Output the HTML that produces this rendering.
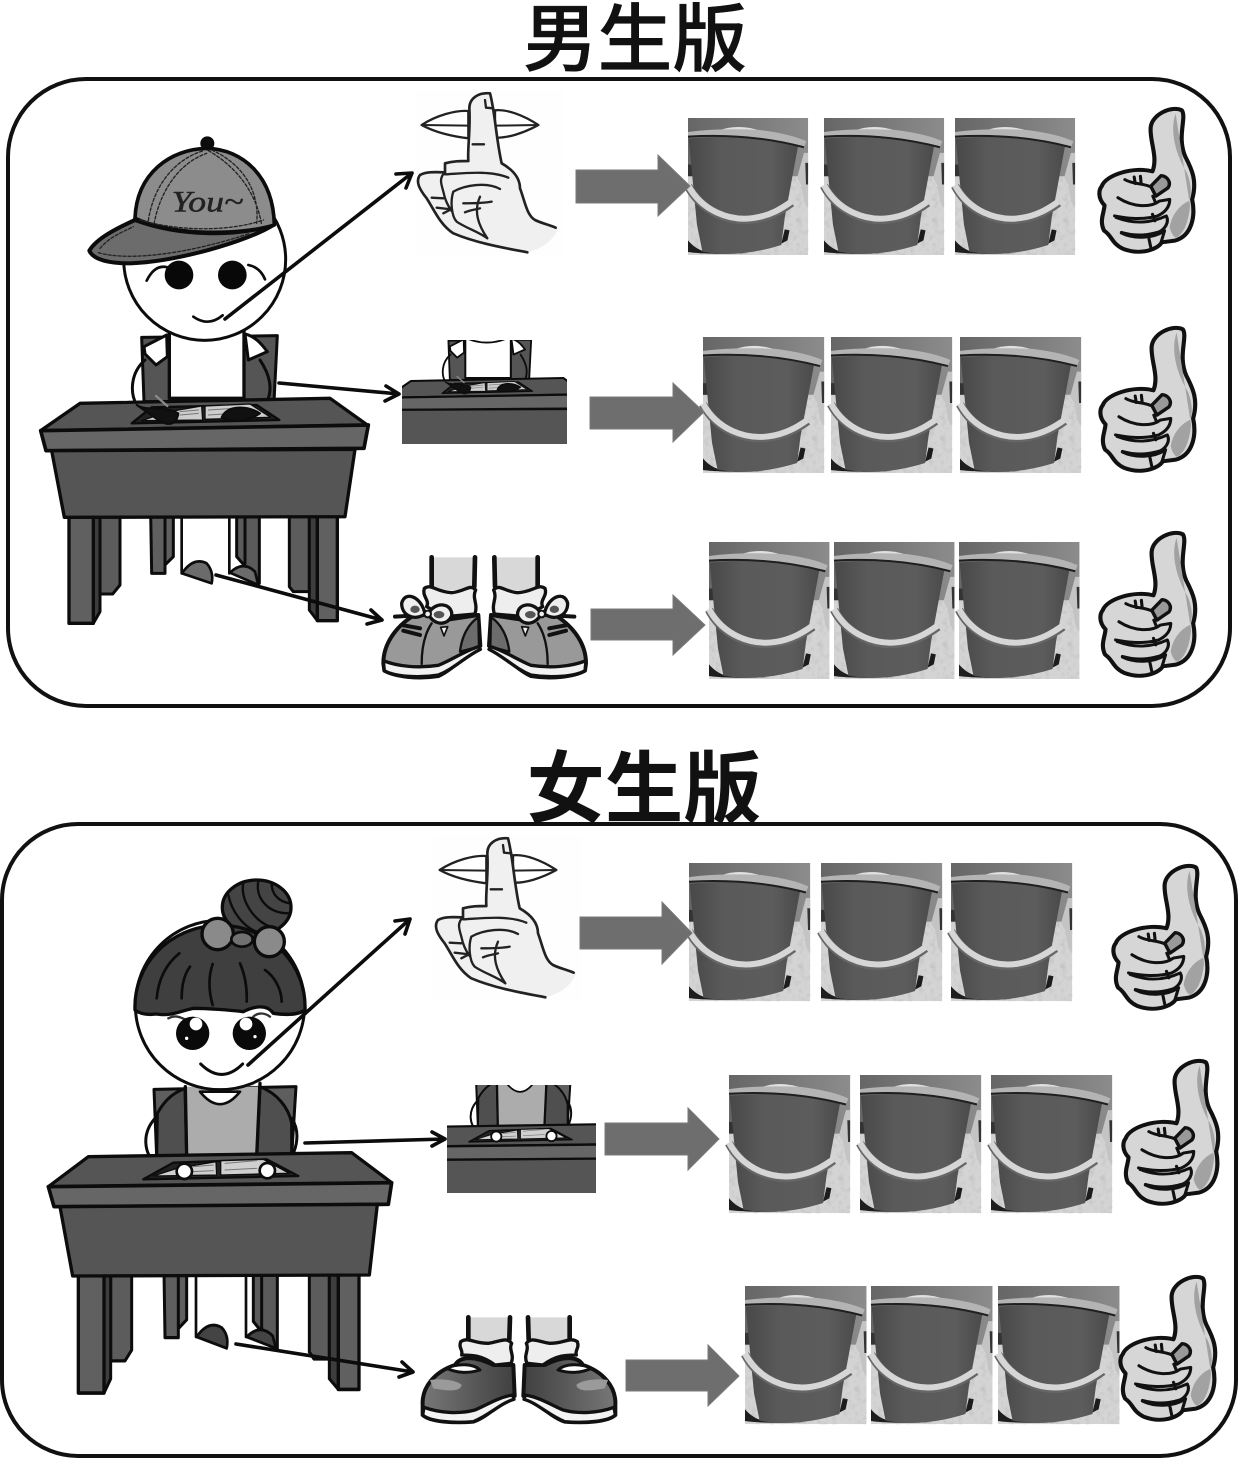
<!DOCTYPE html>
<html><head><meta charset="utf-8"><style>
html,body{margin:0;padding:0;background:#fff;width:1238px;height:1460px;overflow:hidden}
svg{display:block}
</style></head><body>
<svg width="1238" height="1460" viewBox="0 0 1238 1460" xmlns="http://www.w3.org/2000/svg">
<defs>
<linearGradient id="sky" x1="0" x2="1" y1="0" y2="0"><stop offset="0" stop-color="#666"/><stop offset="1" stop-color="#8c8c8c"/></linearGradient>
<linearGradient id="pail" x1="0" x2="1" y1="0" y2="0"><stop offset="0" stop-color="#484848"/><stop offset=".3" stop-color="#5a5a5a"/><stop offset=".75" stop-color="#5c5c5c"/><stop offset="1" stop-color="#4a4a4a"/></linearGradient>
<linearGradient id="shoeg" x1="0" x2="1" y1="0" y2="0"><stop offset="0" stop-color="#777"/><stop offset="1" stop-color="#404040"/></linearGradient>
<filter id="sandf" x="0" y="0" width="1" height="1"><feTurbulence type="fractalNoise" baseFrequency=".06" numOctaves="2" seed="4"/><feColorMatrix values="0 0 0 0 .45  0 0 0 0 .45  0 0 0 0 .45  1.1 0 0 0 -.5"/></filter>

<g id="bucket">
  <rect width="350" height="412" fill="#d4d4d4"/>
  <rect y="170" width="350" height="242" filter="url(#sandf)"/>
  <rect width="350" height="175" fill="url(#sky)"/>
  <rect y="140" width="14" height="35" fill="#333"/>
  <path d="M318 180 L338 105 L350 105 L350 270 L338 250 L330 200Z" fill="#c4c4c4"/>
  <path d="M342 135 L350 135 L350 200 L344 200Z" fill="#333"/>
  <path d="M0 368 C20 392 40 402 70 405 L170 406 C110 411 30 408 0 403Z" fill="#1e1e1e"/>
  <path d="M272 378 L282 335 L296 338 L290 368Z" fill="#1c1c1c"/>
  <path d="M2 62 Q170 45 322 78 L282 300 L272 382 Q150 422 42 402 L26 320Z" fill="url(#pail)"/>
  <path d="M95 36 Q150 16 215 40Z" fill="#e0e0e0"/>
  <path d="M0 42 Q90 30 210 36 Q300 48 345 70 L338 88 Q180 45 0 56Z" fill="#b4b4b4"/>
  <path d="M0 56 Q180 45 338 88" fill="none" stroke="#1f1f1f" stroke-width="6"/>
  <path d="M0 204 C40 282 120 315 190 305 C240 298 275 275 302 255" fill="none" stroke="#666" stroke-width="25"/>
  <path d="M0 202 C40 279 120 311 190 301 C240 294 275 271 302 251" fill="none" stroke="#d6d6d6" stroke-width="18"/>
</g>

<g id="thumb" stroke-linejoin="round" stroke-linecap="round">
  <path d="M1375 215 C1392 170 1365 120 1370 80 C1375 42 1430 15 1460 30 C1475 52 1445 110 1470 170 C1490 210 1505 245 1490 300 C1500 350 1490 410 1440 425 L1402 430 C1390 452 1340 470 1290 450 C1255 432 1258 410 1235 395 C1220 365 1235 340 1236 318 C1215 295 1220 270 1228 260 C1240 225 1320 200 1375 215Z" fill="#d6d6d6" stroke="#111" stroke-width="12"/>
  <path d="M1442 40 C1425 90 1440 160 1475 220 C1490 260 1488 290 1480 305 C1450 320 1430 350 1425 385 C1430 405 1440 418 1445 416 C1470 400 1480 360 1484 320" fill="#a2a2a2" stroke="none"/>
  <path d="M1370 260 L1400 228 C1420 230 1430 250 1420 265 L1385 290Z" fill="#999" stroke="#111" stroke-width="10"/>
  <path d="M1275 295 C1320 325 1370 325 1395 305 L1425 300 C1425 325 1410 340 1390 350 C1340 365 1290 355 1265 350 M1270 355 C1320 375 1370 372 1415 350 C1425 370 1410 390 1395 398 C1350 412 1320 410 1285 400 M1285 402 C1320 420 1375 420 1410 395 L1400 430 M1295 240 C1320 255 1345 250 1370 262 M1322 232 L1325 252 M1340 230 L1342 250 M1376 290 L1382 305 M1375 345 L1382 365 M1365 420 L1370 445" fill="none" stroke="#111" stroke-width="9"/>
</g>

<g id="hand" stroke="#222" stroke-linejoin="round" stroke-linecap="round">
  <rect x="15" y="15" width="445" height="495" fill="#fefefe" stroke="none"/>
  <path d="M35 120 C80 90 140 75 175 78 L175 160 C135 155 80 145 35 120Z" fill="#fff" stroke-width="7"/>
  <path d="M385 120 C340 90 290 72 255 76 L255 158 C290 160 340 145 385 120Z" fill="#fff" stroke-width="7"/>
  <path d="M35 120 L175 122 M255 122 L385 120" fill="none" stroke-width="6"/>
  <path d="M105 262 L105 235 C130 228 150 228 175 228 C172 190 182 130 178 70 C178 40 205 22 240 25 C255 80 258 160 275 235 C310 255 330 280 330 310 C345 350 350 390 375 405 C395 415 420 420 445 430 C430 465 400 490 352 502 C290 490 200 475 130 445 C90 420 70 370 50 340 C30 315 15 290 30 270 C50 258 85 262 105 262Z" fill="#f0f0f0" stroke="none"/>
  <path d="M175 228 C172 190 182 130 178 70 C178 40 205 22 240 25 C255 80 258 160 275 235 C310 255 330 280 330 310 C345 350 350 390 375 405 C395 415 420 420 437 428 M352 502 C290 490 200 475 130 445 C90 420 70 370 50 340 C30 315 15 290 30 270 C50 258 85 262 105 262 L105 235 C130 228 150 228 175 228" fill="none" stroke-width="8"/>
  <path d="M105 262 C85 280 95 300 100 320 C105 345 115 365 125 378 M105 268 C160 265 240 255 295 278 M130 320 C165 300 230 290 270 312 M130 320 C120 350 125 395 140 410 C170 430 205 440 232 460 C205 420 190 380 210 335 M160 355 C190 355 220 355 245 350 M165 382 C180 375 205 372 210 370 M65 338 L100 340 M80 368 L115 372 M100 385 L125 372 M188 178 L222 178 M225 45 L228 68 L250 70" fill="none" stroke-width="7"/>
</g>

<g id="boyshoe" stroke="#111" stroke-linejoin="round" stroke-linecap="round">
  <path d="M170 52 L170 150 L300 150 L300 52" fill="#d8d8d8" stroke="none"/>
  <path d="M170 52 L170 140 M300 52 L298 140" fill="none" stroke-width="14"/>
  <path d="M25 370 C25 300 80 240 140 215 L210 240 L310 225 L316 318 C270 340 240 385 190 408 C130 418 60 410 28 392Z" fill="#999" stroke-width="12"/>
  <path d="M255 335 C260 290 280 250 310 232 L312 320Z" fill="#6c6c6c" stroke-width="7"/>
  <path d="M25 362 C70 380 130 385 190 376 C230 360 265 335 310 320 L316 328 C270 350 240 385 190 405 C130 415 60 410 28 392Z" fill="#f2f2f2" stroke-width="10"/>
  <path d="M140 372 C140 320 150 280 170 250" fill="none" stroke-width="7"/>
  <path d="M148 145 C170 130 180 155 230 158 C270 155 285 130 302 150 C290 175 310 190 300 222 L210 230 L155 200 C165 180 140 170 148 145Z" fill="#eee" stroke-width="10"/>
  <path d="M60 230 L145 225 M80 255 L135 265 M85 272 L135 285" fill="none" stroke-width="12"/>
  <path d="M150 222 C115 245 80 225 80 190 C90 150 140 170 150 222Z" fill="#eee" stroke-width="10"/>
  <path d="M160 222 C180 180 235 190 230 228 C215 260 175 255 160 222Z" fill="#eee" stroke-width="10"/>
  <ellipse cx="120" cy="208" rx="14" ry="11" fill="#555" stroke="none"/>
  <ellipse cx="192" cy="224" rx="16" ry="11" fill="#555" stroke="none"/>
  <circle cx="158" cy="222" r="10" fill="#eee" stroke-width="6"/>
  <path d="M197 262 L207 288 L218 260Z" fill="#eee" stroke-width="5"/>
</g>

<g id="girlshoe" stroke="#111" stroke-linejoin="round" stroke-linecap="round">
  <path d="M175 52 L175 130 L300 130 L300 52" fill="#d8d8d8" stroke="none"/>
  <path d="M175 52 L175 118 M300 52 L298 118" fill="none" stroke-width="14"/>
  <path d="M38 315 C35 260 75 215 135 195 C150 170 190 165 250 195 L310 195 L314 288 C270 300 245 345 190 365 C130 370 60 365 38 345Z" fill="url(#shoeg)" stroke-width="12"/>
  <path d="M60 240 C95 235 140 240 155 255 C150 280 100 270 70 265Z" fill="#9a9a9a" stroke="none"/>
  <path d="M110 205 C140 190 190 190 210 210 C170 222 140 218 110 205Z" fill="#fff" stroke-width="9"/>
  <path d="M42 322 C90 340 150 342 195 330 C230 315 265 292 308 285 L312 298 C270 310 240 345 190 365 C130 370 60 365 38 345Z" fill="#f3f3f3" stroke-width="10"/>
  <path d="M152 125 C175 110 190 130 235 130 C270 125 290 110 305 130 C295 150 315 165 303 190 L255 195 C215 165 185 165 155 165 C160 150 145 145 152 125Z" fill="#eee" stroke-width="10"/>
</g>

<g id="boy" stroke-linejoin="round" stroke-linecap="round">
 <g transform="translate(30 130) scale(.33333)" stroke="#0c0c0c">
  <path d="M362 1150 L405 1150 L405 1330 L365 1330Z M405 1150 L430 1150 L430 1280 L405 1305Z" fill="#5f5f5f" stroke-width="9"/>
  <path d="M620 1150 L688 1150 L688 1360 L655 1320 L620 1280Z M645 1150 L645 1300" fill="#5a5a5a" stroke-width="9"/>
  <path d="M210 1150 L270 1150 L270 1365 L248 1392 L210 1392Z" fill="#5c5c5c" stroke-width="9"/>
  <path d="M778 1150 L838 1150 L838 1385 L790 1385 L778 1370Z" fill="#5c5c5c" stroke-width="9"/>
  <path d="M190 1150 L210 1150 L210 1445 L190 1480Z" fill="#3d3d3d" stroke-width="9"/>
  <path d="M117 1150 L190 1150 L190 1480 L117 1480Z" fill="#606060" stroke-width="10"/>
  <path d="M838 1150 L862 1150 L862 1472 L838 1440Z" fill="#3d3d3d" stroke-width="9"/>
  <path d="M862 1150 L922 1150 L922 1472 L862 1472Z" fill="#606060" stroke-width="10"/>
  <path d="M455 1165 L455 1330 M598 1165 L598 1330" fill="none" stroke-width="8"/>
  <path d="M456 1330 Q490 1280 530 1300 Q552 1325 545 1360Z" fill="#6b6b6b" stroke-width="8"/>
  <path d="M600 1328 Q640 1290 675 1325 L685 1365Z" fill="#6b6b6b" stroke-width="8"/>
  <path d="M335 622 L742 617 L732 815 L342 815Z" fill="#555" stroke-width="9"/>
  <rect x="418" y="600" width="224" height="205" fill="#fff" stroke-width="10"/>
  <path d="M342 650 L410 615 L412 680 L378 705 L345 672Z" fill="#fff" stroke-width="9"/>
  <path d="M645 612 C680 620 700 650 712 665 L655 690Z" fill="#fff" stroke-width="9"/>
  <path d="M345 690 C300 730 300 790 320 825 M690 690 C730 750 730 800 690 850" fill="none" stroke-width="9"/>
  <path d="M32 902 L150 820 L900 805 L1012 885Z" fill="#555" stroke-width="10"/>
  <path d="M305 880 L365 832 L680 825 L748 870Z" fill="#222" stroke-width="7"/>
  <path d="M335 872 L385 855 L445 840 L515 828 L518 870Z M525 828 L660 822 L722 862 L525 868Z" fill="#cdcdcd" stroke-width="4"/>
  <path d="M450 845 L505 840 M450 855 L505 850 M535 840 L610 835 M535 855 L610 850" stroke="#777" stroke-width="3" fill="none"/>
  <path d="M320 825 C350 845 400 825 445 850 C440 885 415 890 385 870Z" fill="#111" stroke-width="6"/>
  <path d="M575 862 C590 825 650 825 690 850 C660 872 610 882 575 862Z" fill="#111" stroke-width="6"/>
  <path d="M378 798 L412 828" stroke="#888" stroke-width="7" fill="none"/>
  <path d="M32 902 L1015 885 L1002 955 L48 962Z" fill="#666" stroke-width="11"/>
  <path d="M65 962 L975 958 L945 1160 L103 1162Z" fill="#555" stroke-width="10"/>
  <circle cx="524" cy="388" r="243" fill="#fff" stroke-width="9"/>
  <circle cx="447" cy="435" r="43" fill="#080808" stroke="none"/>
  <circle cx="607" cy="435" r="43" fill="#080808" stroke="none"/>
  <path d="M350 452 Q375 402 412 412 M655 405 Q690 412 705 448 M490 560 Q535 592 578 556" fill="none" stroke-width="8"/>
  <path d="M178 362 C200 325 260 295 315 270 C450 320 620 320 730 285 C650 335 440 395 300 400 C240 400 190 390 178 362Z" fill="#6c6c6c" stroke-width="12"/>
  <path d="M315 265 C320 130 420 58 530 55 C640 58 730 140 733 285 C640 315 430 320 315 265Z" fill="#8c8c8c" stroke-width="11"/>
  <circle cx="532" cy="40" r="21" fill="#0c0c0c" stroke="none"/>
  <path d="M355 272 C370 170 430 90 520 62 M372 282 C390 185 445 100 530 70 M535 62 C620 110 680 190 695 285 M545 60 C635 100 690 180 680 280 M210 355 C240 320 270 310 310 290 M205 368 C300 395 480 370 660 310 M330 270 C450 305 600 305 700 270" fill="none" stroke="#222" stroke-width="4" stroke-dasharray="9 6"/>
  <text x="425" y="245" font-family="Liberation Serif, serif" font-style="italic" font-size="90" fill="#222" stroke="#222" stroke-width="1.5" textLength="215" lengthAdjust="spacingAndGlyphs">You~</text>
 </g>
</g>

<g id="girl" stroke-linejoin="round" stroke-linecap="round">
 <g transform="translate(40 870) scale(.33333)" stroke="#0c0c0c">
  <g transform="translate(0 1215) scale(1 1.073) translate(0 -1215)">
  <path d="M372 1205 L415 1205 L415 1390 L375 1390Z M415 1205 L440 1205 L440 1340 L415 1365Z" fill="#5f5f5f" stroke-width="9"/>
  <path d="M640 1205 L712 1205 L712 1420 L675 1385 L640 1345Z M665 1205 L665 1365" fill="#5a5a5a" stroke-width="9"/>
  <path d="M212 1205 L275 1205 L275 1425 L255 1455 L212 1455Z" fill="#5c5c5c" stroke-width="9"/>
  <path d="M808 1205 L868 1205 L868 1450 L822 1450 L808 1430Z" fill="#5c5c5c" stroke-width="9"/>
  <path d="M192 1205 L212 1205 L212 1505 L192 1545Z" fill="#3d3d3d" stroke-width="9"/>
  <path d="M115 1205 L192 1205 L192 1545 L115 1545Z" fill="#606060" stroke-width="10"/>
  <path d="M868 1205 L895 1205 L895 1535 L868 1505Z" fill="#3d3d3d" stroke-width="9"/>
  <path d="M895 1205 L957 1205 L957 1535 L895 1535Z" fill="#606060" stroke-width="10"/>
  <path d="M468 1215 L468 1388 M618 1215 L618 1388" fill="none" stroke-width="8"/>
  <path d="M470 1388 Q505 1340 545 1362 Q568 1385 560 1420Z" fill="#444" stroke-width="8"/>
  <path d="M620 1388 Q660 1350 698 1385 L708 1420Z" fill="#444" stroke-width="8"/>
  </g>
  <path d="M342 658 L768 650 L755 860 L350 860Z" fill="#5e5e5e" stroke-width="9"/>
  <path d="M352 730 C380 680 410 665 435 655 L440 860 L350 860Z M660 650 C710 670 745 710 755 760 L755 860 L650 860Z" fill="#4f4f4f" stroke-width="9"/>
  <rect x="436" y="650" width="218" height="210" fill="#acacac" stroke="none"/>
  <path d="M436 650 L440 860 M660 640 L650 860" fill="none" stroke-width="10"/>
  <path d="M480 665 Q540 740 600 665Z" fill="#fff" stroke-width="8"/>
  <path d="M345 745 C305 790 310 850 350 885 M755 745 C785 790 770 860 725 895" fill="none" stroke-width="9"/>
  <path d="M25 950 L145 860 L935 848 L1055 938Z" fill="#555" stroke-width="10"/>
  <path d="M310 928 L400 878 L680 868 L775 918Z" fill="#222" stroke-width="7"/>
  <path d="M340 918 L410 895 L528 875 L530 915Z M542 872 L670 868 L748 910 L542 915Z" fill="#cfcfcf" stroke-width="4"/>
  <path d="M460 890 L520 885 M460 905 L520 902 M555 880 L650 872 M555 900 L650 895" stroke="#777" stroke-width="3" fill="none"/>
  <circle cx="433" cy="904" r="23" fill="#fff" stroke-width="8"/>
  <circle cx="682" cy="902" r="23" fill="#fff" stroke-width="8"/>
  <path d="M25 950 L1055 938 L1045 1003 L42 1010Z" fill="#666" stroke-width="11"/>
  <path d="M60 1010 L1012 1003 L988 1215 L98 1218Z" fill="#555" stroke-width="10"/>
  <circle cx="540" cy="405" r="254" fill="#fff" stroke-width="9"/>
  <ellipse cx="650" cy="112" rx="103" ry="82" fill="#444" stroke-width="10"/>
  <path d="M610 38 C600 90 640 150 690 170 M655 34 C645 85 685 130 745 130 M565 75 C575 125 610 170 650 185 M695 40 C695 72 715 95 750 100" fill="none" stroke-width="7"/>
  <path d="M285 420 C280 290 380 170 540 165 C700 170 800 290 795 420 C775 435 735 435 700 430 C680 400 640 410 610 425 C570 420 500 415 460 415 C430 420 395 440 350 432 C325 435 300 432 285 420Z" fill="#3f3f3f" stroke-width="10"/>
  <path d="M350 385 C355 330 375 285 418 250 M425 385 C425 340 435 310 450 290 M518 405 C505 360 505 320 518 282 M620 395 C622 350 615 315 600 280 M725 395 C725 360 705 320 675 300" fill="none" stroke-width="8"/>
  <circle cx="533" cy="192" r="47" fill="#8a8a8a" stroke-width="10"/>
  <circle cx="688" cy="215" r="45" fill="#8a8a8a" stroke-width="10"/>
  <ellipse cx="606" cy="208" rx="32" ry="22" fill="#707070" stroke-width="8"/>
  <path d="M385 445 C410 432 425 445 440 450 M690 440 C670 425 650 430 640 440" fill="none" stroke="#333" stroke-width="7"/>
  <circle cx="458" cy="490" r="50" fill="#0a0a0a" stroke="none"/>
  <circle cx="628" cy="490" r="50" fill="#0a0a0a" stroke="none"/>
  <circle cx="468" cy="462" r="19" fill="#fff" stroke="none"/>
  <circle cx="618" cy="462" r="19" fill="#fff" stroke="none"/>
  <circle cx="440" cy="505" r="5" fill="#fff" stroke="none"/>
  <circle cx="645" cy="500" r="5" fill="#fff" stroke="none"/>
  <path d="M482 582 Q545 645 608 582" fill="none" stroke-width="9"/>
 </g>
</g>
<clipPath id="c1"><rect x="402" y="340" width="165" height="104"/></clipPath>
<clipPath id="c2"><rect x="447" y="1085" width="149" height="108"/></clipPath>
</defs>

<rect width="1238" height="1460" fill="#fff"/>

<rect x="8" y="79" width="1222" height="627" rx="78" ry="78" fill="none" stroke="#111" stroke-width="4"/>
<rect x="2" y="824" width="1234" height="632" rx="76" ry="76" fill="none" stroke="#111" stroke-width="4"/>

<text x="635" y="65" text-anchor="middle" font-family="'Liberation Sans','Noto Sans CJK SC',sans-serif" font-size="74" font-weight="500" fill="#111" stroke="#111" stroke-width=".5" textLength="224" lengthAdjust="spacingAndGlyphs">男生版</text>
<text x="644" y="816" text-anchor="middle" font-family="'Liberation Sans','Noto Sans CJK SC',sans-serif" font-size="78" font-weight="700" fill="#111" textLength="235" lengthAdjust="spacingAndGlyphs">女生版</text>

<use href="#boy"/>
<use href="#girl"/>

<g clip-path="url(#c1)"><use href="#boy" transform="translate(362 135) scale(.61)"/></g>
<g clip-path="url(#c2)"><use href="#girl" transform="translate(373.7 357.6) scale(.665)"/></g>

<g transform="translate(410 85) scale(.33333)"><use href="#hand"/></g>
<g transform="translate(428 830) scale(.33333)"><use href="#hand"/></g>

<g transform="translate(375 540) scale(.33333)"><use href="#boyshoe"/><use href="#boyshoe" transform="translate(658 0) scale(-1 1)"/></g>
<g transform="translate(410 1300) scale(.33333)"><use href="#girlshoe"/><use href="#girlshoe" transform="translate(654 0) scale(-1 1)"/></g>

<use href="#bucket" transform="translate(688 118) scale(.343 .3325)"/>
<use href="#bucket" transform="translate(824 118) scale(.343 .3325)"/>
<use href="#bucket" transform="translate(955 118) scale(.343 .3325)"/>
<use href="#bucket" transform="translate(703 337) scale(.346 .33)"/>
<use href="#bucket" transform="translate(831 337) scale(.346 .33)"/>
<use href="#bucket" transform="translate(960 337) scale(.346 .33)"/>
<use href="#bucket" transform="translate(709 542) scale(.344 .3325)"/>
<use href="#bucket" transform="translate(834 542) scale(.344 .3325)"/>
<use href="#bucket" transform="translate(959 542) scale(.344 .3325)"/>
<use href="#bucket" transform="translate(689 863) scale(.346 .335)"/>
<use href="#bucket" transform="translate(821 863) scale(.346 .335)"/>
<use href="#bucket" transform="translate(951 863) scale(.346 .335)"/>
<use href="#bucket" transform="translate(729 1075) scale(.346 .335)"/>
<use href="#bucket" transform="translate(860 1075) scale(.346 .335)"/>
<use href="#bucket" transform="translate(991 1075) scale(.346 .335)"/>
<use href="#bucket" transform="translate(745 1286) scale(.347 .335)"/>
<use href="#bucket" transform="translate(871 1286) scale(.347 .335)"/>
<use href="#bucket" transform="translate(998 1286) scale(.347 .335)"/>

<g fill="#6e6e6e" stroke="#7a7a7a" stroke-width="1">
<path d="M576 170 H658 V155 L690 186 L658 216 V203 H576Z"/>
<path d="M590 397 H673 V383 L704 412 L673 442 V429 H590Z"/>
<path d="M591 609 H673 V595 L705 625 L673 655 V640 H591Z"/>
<path d="M580 917 H662 V902 L692 933 L662 964 V949 H580Z"/>
<path d="M605 1123 H688 V1108 L719 1139 L688 1170 V1155 H605Z"/>
<path d="M626 1360 H708 V1345 L739 1376 L708 1406 V1391 H626Z"/>
</g>

<g transform="translate(1099 107) scale(.345 .33) translate(-1220 -20)"><use href="#thumb"/></g>
<g transform="translate(1100 326) scale(.345 .33) translate(-1220 -20)"><use href="#thumb"/></g>
<g transform="translate(1100 531) scale(.345 .33) translate(-1220 -20)"><use href="#thumb"/></g>
<g transform="translate(1113 864) scale(.345 .33) translate(-1220 -20)"><use href="#thumb"/></g>
<g transform="translate(1123 1059) scale(.345 .33) translate(-1220 -20)"><use href="#thumb"/></g>
<g transform="translate(1120 1275) scale(.345 .33) translate(-1220 -20)"><use href="#thumb"/></g>

<g fill="none" stroke="#0c0c0c" stroke-width="3.6" stroke-linecap="round" stroke-linejoin="round">
<path d="M225 319 L412 173 M396 174 L412 173 L406 188"/>
<path d="M279 383 L399 394 M386 386 L399 394 L385 401"/>
<path d="M216 575 L382 620 M371 610 L382 620 L367 624"/>
<path d="M248 1065 L410 919 M395 921 L410 919 L405 934"/>
<path d="M305 1143 L445 1139 M432 1132 L445 1139 L432 1146"/>
<path d="M236 1344 L413 1372 M402 1362 L413 1372 L399 1377"/>
</g>
</svg>
</body></html>
